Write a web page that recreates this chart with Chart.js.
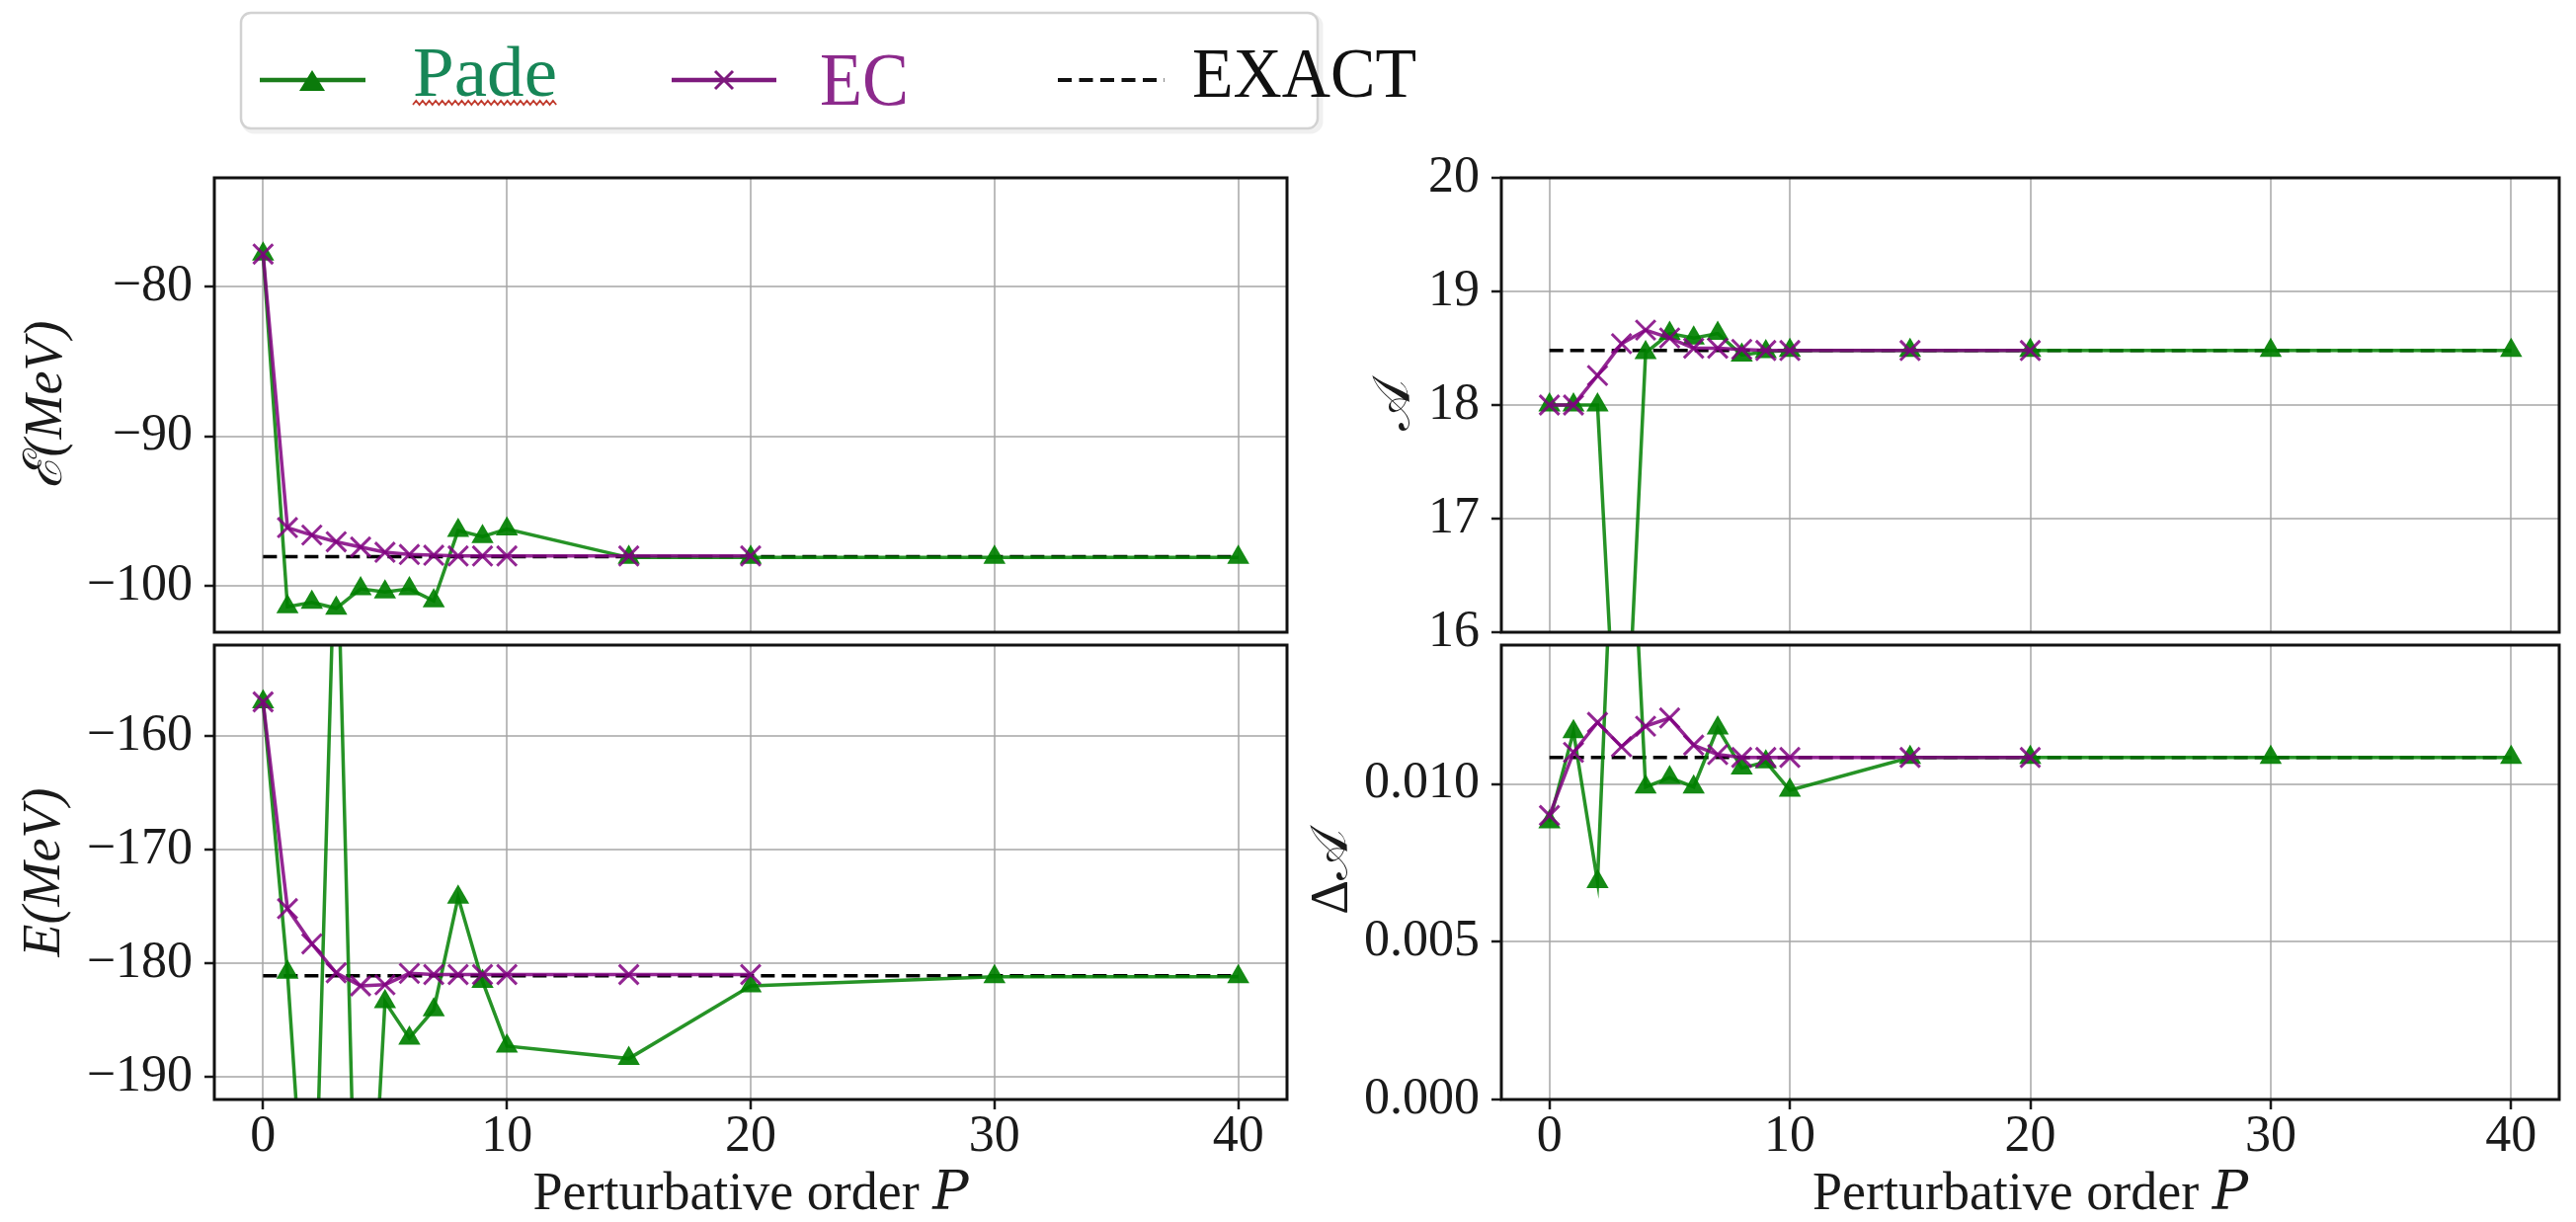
<!DOCTYPE html>
<html><head><meta charset="utf-8">
<script src="https://cdn.jsdelivr.net/npm/chart.js@4.4.0/dist/chart.umd.min.js"></script>
<style>
html,body{margin:0;padding:0;background:#fff;overflow:hidden;width:2608px;height:1237px;}
canvas{position:absolute;left:0;top:0;width:2608px;height:1237px;}
#legend{position:absolute;left:0;top:0;}
</style></head><body>
<canvas id="cTL" width="2608" height="1237"></canvas>
<canvas id="cBL" width="2608" height="1237"></canvas>
<canvas id="cTR" width="2608" height="1237"></canvas>
<canvas id="cBR" width="2608" height="1237"></canvas>
<svg id="legend" width="2608" height="150" xmlns="http://www.w3.org/2000/svg">
  <rect x="247" y="16" width="1090" height="117" rx="10" fill="none" stroke="rgba(0,0,0,0.06)" stroke-width="5"/>
  <rect x="244" y="13" width="1090" height="117" rx="10" fill="#fff" stroke="#d2d2d2" stroke-width="2.5"/>
  <line x1="263" y1="81" x2="370" y2="81" stroke="#1b7d1b" stroke-width="4.5"/>
  <polygon points="316,71 303,92 329,92" fill="#0b7a0b"/>
  <text x="418" y="97" font-family="Liberation Serif, serif" font-size="72" fill="#178657" textLength="146" lengthAdjust="spacingAndGlyphs">Pade</text>
  <polyline id="squig" fill="none" stroke="#c0392b" stroke-width="1.8"/>
  <line x1="680" y1="81" x2="786" y2="81" stroke="#7d1a7d" stroke-width="4.5"/>
  <line x1="724" y1="72" x2="742" y2="90" stroke="#7d1a7d" stroke-width="3"/>
  <line x1="742" y1="72" x2="724" y2="90" stroke="#7d1a7d" stroke-width="3"/>
  <text x="830" y="106" font-family="Liberation Serif, serif" font-size="76" fill="#8c2a8c" textLength="90" lengthAdjust="spacingAndGlyphs">EC</text>
  <line x1="1071" y1="81" x2="1179" y2="81" stroke="#111" stroke-width="4" stroke-dasharray="14,7.5"/>
  <text x="1207" y="98" font-family="Liberation Serif, serif" font-size="72" fill="#111" textLength="227" lengthAdjust="spacingAndGlyphs">EXACT</text>
</svg>
<script>
// ---------------- data ----------------
const P_PADE = [0, 1, 2, 3, 4, 5, 6, 7, 8, 9, 10, 15, 20, 30, 40];
const P_EC   = [0, 1, 2, 3, 4, 5, 6, 7, 8, 9, 10, 15, 20];
const P_EXACT = [0, 40];

// script E (MeV)
const padeEps = [-77.8, -101.4, -101.1, -101.5, -100.2, -100.4, -100.2, -101.0, -96.3, -96.7, -96.2, -98.1, -98.1, -98.1, -98.1];
const ecEps   = [-77.8, -96.1, -96.6, -97.05, -97.4, -97.75, -97.9, -97.95, -98.0, -98.0, -98.0, -98.0, -98.0];
const exactEps = -98.05;

// total energy E (MeV)
const padeE = [-157.0, -180.8, -213.0, -138.5, -222.0, -183.4, -186.6, -184.1, -174.2, -181.6, -187.3, -188.4, -182.0, -181.2, -181.2];
const ecE   = [-157.0, -175.2, -178.3, -180.85, -182.0, -181.9, -180.9, -181.0, -181.0, -181.0, -181.0, -181.0, -181.0];
const exactE = -181.1;

// A
const padeA = [18.0, 18.0, 18.0, 14.0, 18.46, 18.63, 18.59, 18.63, 18.44, 18.47, 18.48, 18.48, 18.48, 18.48, 18.48];
const ecA   = [18.0, 18.0, 18.26, 18.54, 18.66, 18.59, 18.5, 18.5, 18.49, 18.48, 18.48, 18.48, 18.48];
const exactA = 18.48;

// Delta A
const padeDA = [0.0088, 0.01165, 0.0069, 0.025, 0.0099, 0.0102, 0.0099, 0.01177, 0.0105, 0.0107, 0.0098, 0.01084, 0.01084, 0.01084, 0.01084];
const ecDA   = [0.0090, 0.0110, 0.01195, 0.01118, 0.01183, 0.01209, 0.01123, 0.01093, 0.01084, 0.01084, 0.01084, 0.01084, 0.01084];
const exactDA = 0.01084;

// ticks
const X_TICKS = [0, 10, 20, 30, 40];
const TICKS_EPS = [-80, -90, -100];
const TICKS_E = [-160, -170, -180, -190];
const TICKS_A = [16, 17, 18, 19, 20];
const TICKS_DA = [0.000, 0.005, 0.010];

// ---------------- drawing ----------------
const SERIF = '"Liberation Serif", "DejaVu Serif", serif';
const GREEN = 'rgba(0,128,0,0.85)';
const PURPLE = 'rgba(128,0,128,0.85)';
const GRID = 'rgba(165,165,165,0.75)';
const INK = '#1a1a1a';

// squiggle under "Pade"
(function(){
  let p = [];
  for (let x = 418, k = 0; x <= 565; x += 3.3, k++) p.push(x.toFixed(1) + ',' + (k % 2 ? 102 : 106));
  document.getElementById('squig').setAttribute('points', p.join(' '));
})();

const pts = (xs, ys) => xs.map((x, i) => ({x: x, y: ys[i]}));
const fmtMinus = v => String(v).replace('-', '\u2212');

const framePlugin = {
  id: 'frame',
  afterDatasetsDraw(chart) {
    const {ctx, chartArea: a} = chart;
    ctx.save();
    ctx.strokeStyle = '#111';
    ctx.lineWidth = 3;
    ctx.strokeRect(a.left, a.top, a.right - a.left, a.bottom - a.top);
    ctx.restore();
  }
};

function panel(id, s) {
  const xAxis = {
    type: 'linear', min: -2, max: 42,
    afterBuildTicks: ax => { ax.ticks = X_TICKS.map(v => ({value: v})); },
    afterFit: ax => { ax.height = s.bottom ? 124 : 0; },
    border: {display: false},
    grid: {color: GRID, lineWidth: 2, drawTicks: !!s.bottom, tickLength: 10, tickColor: INK, tickWidth: 2.5},
    ticks: {display: !!s.bottom, font: {family: SERIF, size: 52, lineHeight: 1}, color: INK, padding: 2, maxRotation: 0, autoSkip: false,
            callback: v => fmtMinus(v)},
    title: {display: !!s.bottom, text: 'Perturbative order \uD835\uDC43', font: {family: SERIF, size: 54, lineHeight: 1}, color: INK, padding: {top: 0, bottom: 0}}
  };
  const yAxis = {
    type: 'linear', min: s.ymin, max: s.ymax,
    afterBuildTicks: ax => { ax.ticks = s.ticks.map(v => ({value: v})); },
    afterFit: ax => { ax.width = s.chartLeft - s.pl; },
    border: {display: false},
    grid: {color: GRID, lineWidth: 2, drawTicks: true, tickLength: 10, tickColor: INK, tickWidth: 2.5},
    ticks: {font: {family: SERIF, size: 52, lineHeight: 1}, color: INK, padding: 12, autoSkip: false, callback: s.fmt},
    title: {display: true, text: s.title, font: {family: SERIF, size: 54, lineHeight: 1, style: s.italic ? 'italic' : 'normal'}, color: INK, padding: {top: 0, bottom: 0}}
  };
  new Chart(document.getElementById(id), {
    type: 'line',
    data: {datasets: [
      {label: 'EC', data: pts(P_EC, s.ec), borderColor: PURPLE, backgroundColor: PURPLE, borderWidth: 3.5,
       pointStyle: 'crossRot', pointRadius: 14, pointBorderWidth: 3, pointBorderColor: PURPLE, order: 1, clip: 0},
      {label: 'Pade', data: pts(P_PADE, s.pade), borderColor: GREEN, backgroundColor: GREEN, borderWidth: 3.5,
       pointStyle: 'triangle', pointRadius: 13, pointBorderWidth: 0, pointBackgroundColor: 'rgba(0,128,0,0.92)', order: 2, clip: 0},
      {label: 'EXACT', data: pts(P_EXACT, [s.exact, s.exact]), borderColor: '#000', borderDash: [14, 7], borderWidth: 3.5,
       pointRadius: 0, order: 3, clip: 0}
    ]},
    options: {
      responsive: false, animation: false, devicePixelRatio: 1,
      layout: {padding: {left: s.pl, right: s.pr, top: s.pt, bottom: s.pb}},
      plugins: {legend: {display: false}, tooltip: {enabled: false}},
      elements: {line: {tension: 0}},
      scales: {x: xAxis, y: yAxis}
    },
    plugins: [framePlugin]
  });
}

const H = 1237, W = 2608;
panel('cTL', {pade: padeEps, ec: ecEps, exact: exactEps, ymin: -103.1, ymax: -72.7, ticks: TICKS_EPS, fmt: fmtMinus,
  title: '\u2130(MeV)', italic: true, pl: 21, chartLeft: 217, pr: W - 1303, pt: 180, pb: H - 640, bottom: false});
panel('cBL', {pade: padeE, ec: ecE, exact: exactE, ymin: -192, ymax: -152, ticks: TICKS_E, fmt: fmtMinus,
  title: 'E(MeV)', italic: true, pl: 19, chartLeft: 217, pr: W - 1303, pt: 653, pb: 0, bottom: true});
panel('cTR', {pade: padeA, ec: ecA, exact: exactA, ymin: 16, ymax: 20, ticks: TICKS_A, fmt: v => String(v),
  title: '\uD835\uDC9C', italic: false, pl: 1386, chartLeft: 1520, pr: 2, pt: 180, pb: H - 640, bottom: false});
panel('cBR', {pade: padeDA, ec: ecDA, exact: exactDA, ymin: 0, ymax: 0.0144, ticks: TICKS_DA, fmt: v => v.toFixed(3),
  title: '\u0394\uD835\uDC9C', italic: false, pl: 1323, chartLeft: 1520, pr: 2, pt: 653, pb: 0, bottom: true});
</script>
</body></html>
